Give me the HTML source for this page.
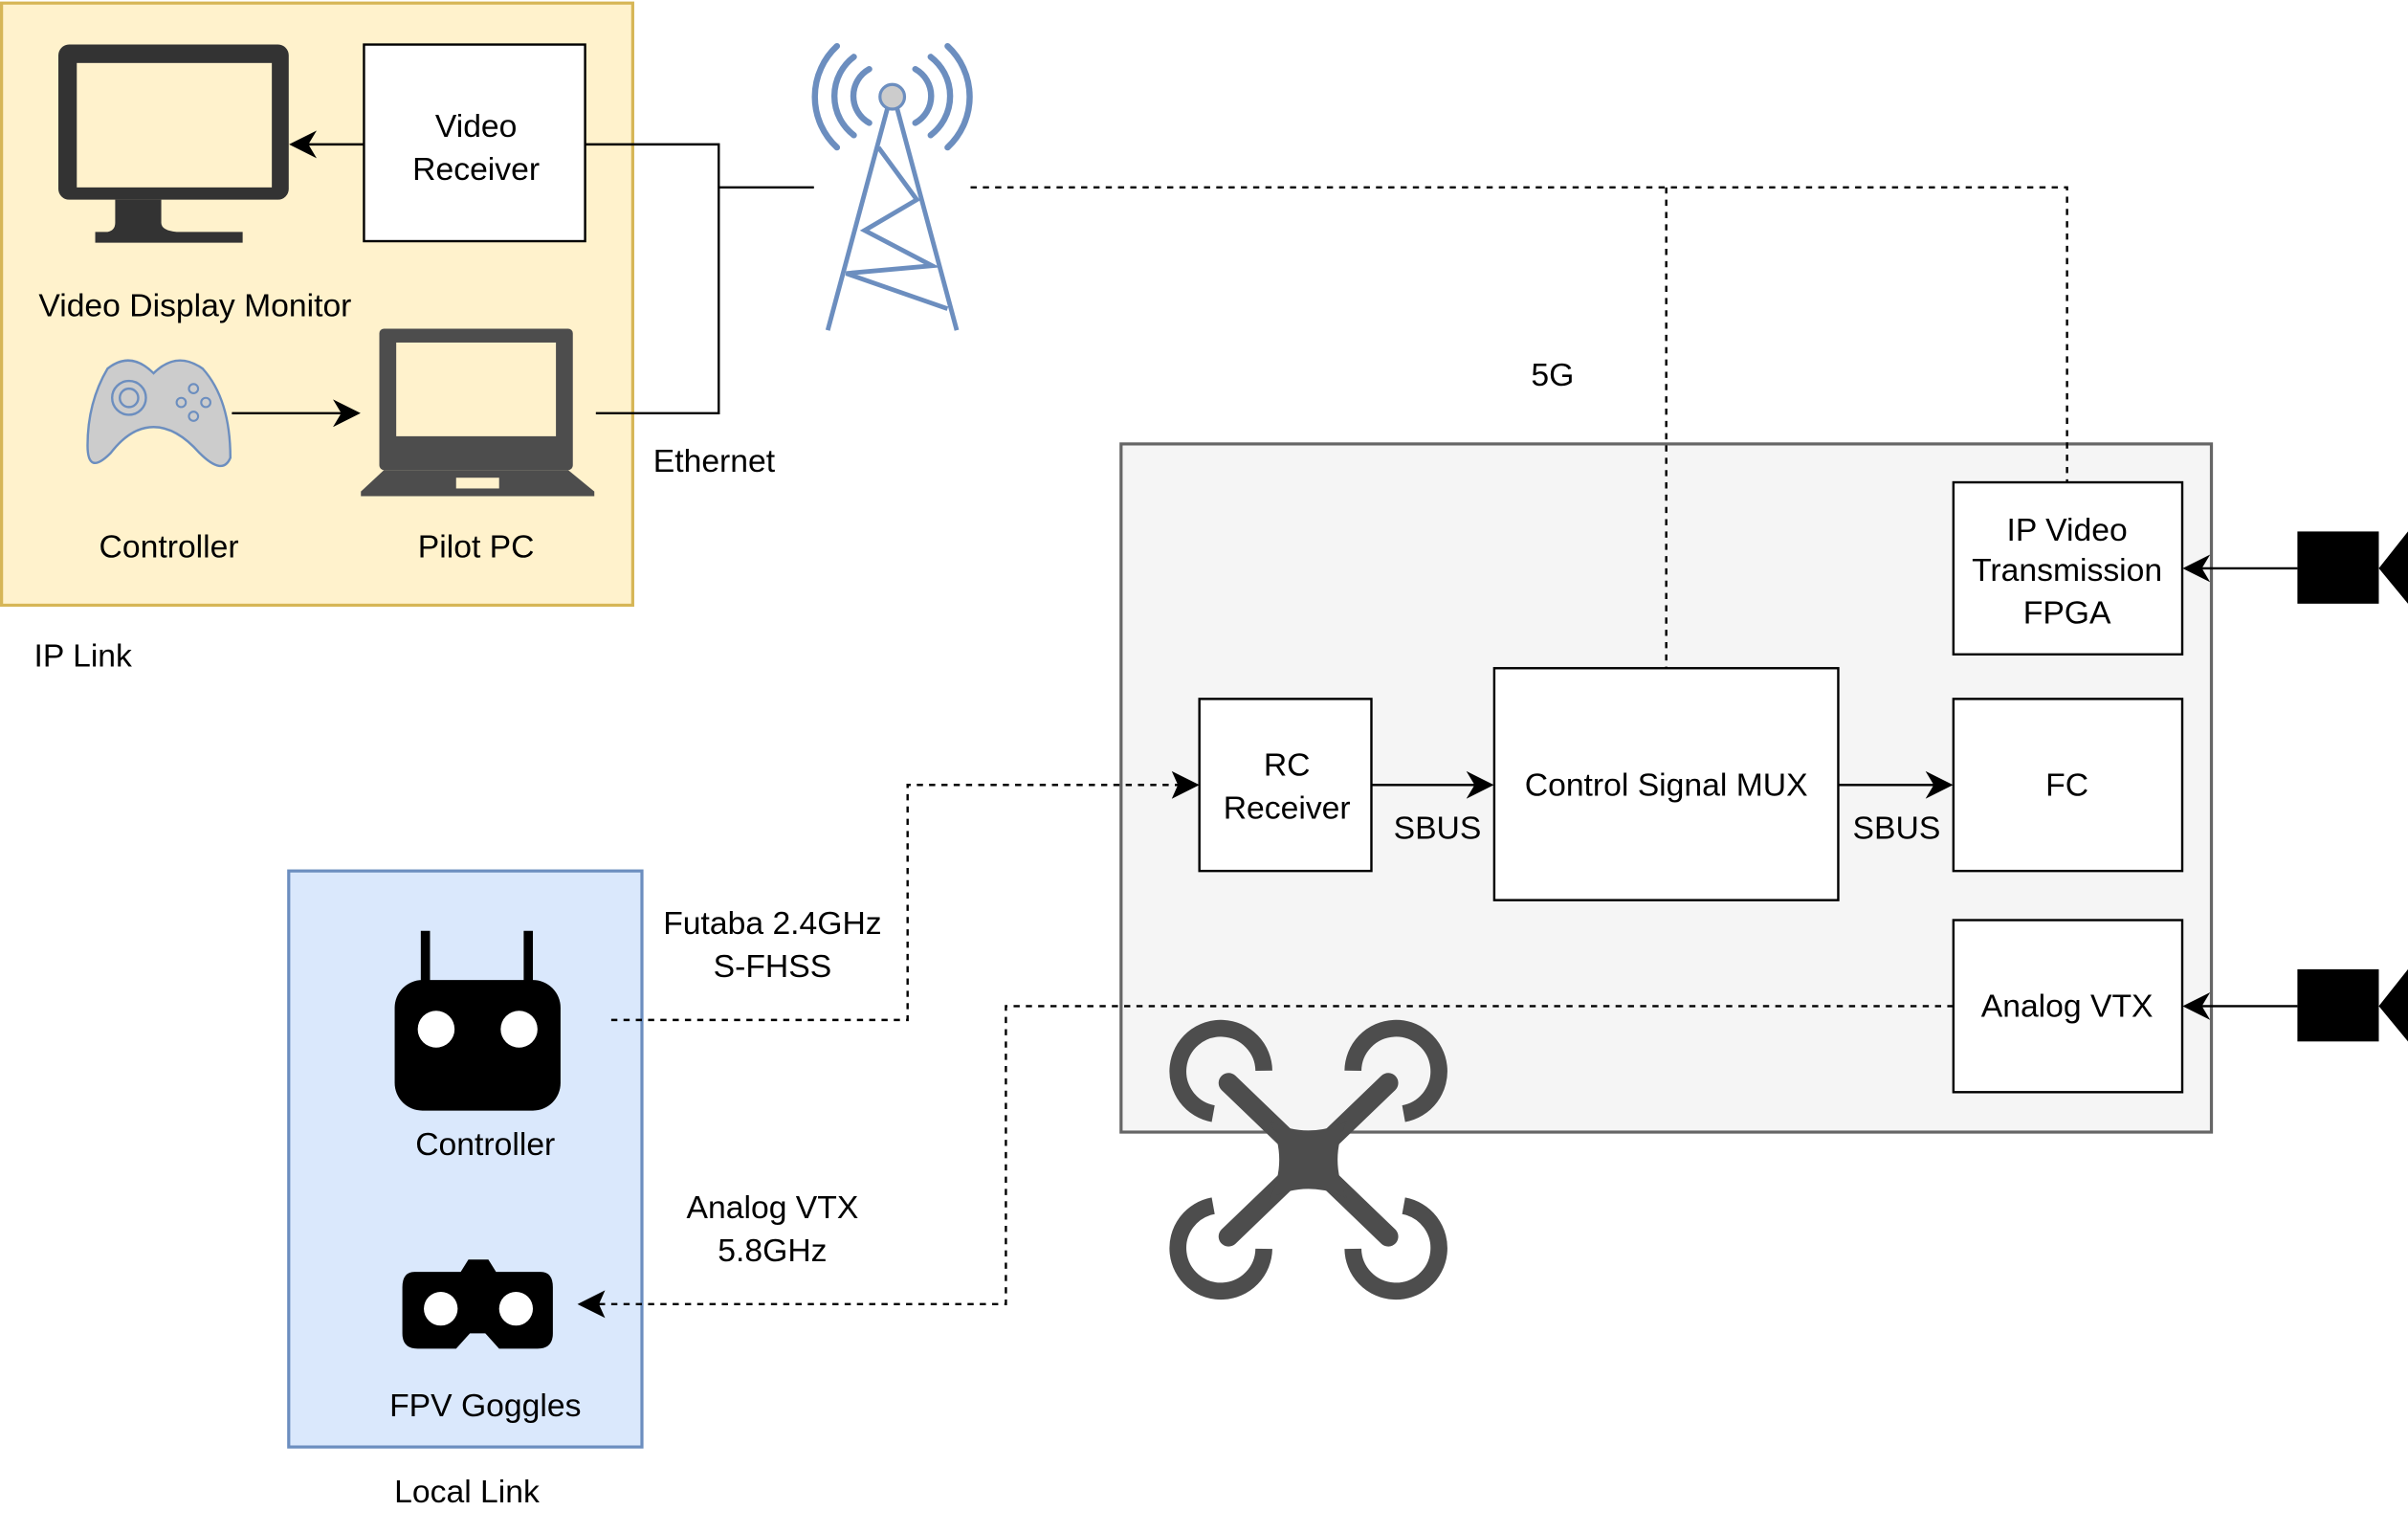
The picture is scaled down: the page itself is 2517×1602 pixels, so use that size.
<!DOCTYPE html>
<html><head><meta charset="utf-8"><style>html,body{margin:0;padding:0;background:#fff}svg{display:block}text{font-family:"Liberation Sans",sans-serif;font-size:21px;fill:#000;text-anchor:middle}</style></head>
<body>
<svg width="2517" height="1602" viewBox="0 0 1568 998" xmlns="http://www.w3.org/2000/svg">
<defs>
<marker id="b" viewBox="0 0 10 10" refX="9" refY="5" markerWidth="18" markerHeight="18" orient="auto" markerUnits="userSpaceOnUse"><path d="M0,0 L10,5 L0,10 L3,5 Z" fill="#000"/></marker>
</defs>
<!-- IP Link -->
<rect x="1" y="2" width="411" height="392" fill="#fff2cc" stroke="#d6b656" stroke-width="2"/>
<rect x="38" y="29" width="150" height="101" rx="7" fill="#333"/>
<rect x="50" y="41" width="127" height="81" fill="#fff2cc"/>
<path d="M75,130 H105 V145 Q105,150 115,151 H158 V158 H62 V151 H70 Q75,150 75,145 Z" fill="#333"/>
<rect x="237" y="29" width="144" height="128" fill="#fff" stroke="#000" stroke-width="1.5"/>
<text x="310" y="89">Video</text><text x="310" y="117">Receiver</text>
<line x1="237" y1="94" x2="190" y2="94" stroke="#000" stroke-width="1.5" marker-end="url(#b)"/>
<polyline points="381,94 468,94 468,269 388,269" fill="none" stroke="#000" stroke-width="1.5"/>
<line x1="468" y1="122" x2="530" y2="122" stroke="#000" stroke-width="1.5"/>
<text x="127" y="206">Video Display Monitor</text>
<path d="M70,240 Q85,228 100,243 Q115,228 132,240 Q150,260 150,298 Q145,310 130,295 Q115,278 100,278 Q85,278 72,295 Q57,310 57,290 Q57,262 70,240 Z" fill="#ccc" stroke="#6c8ebf" stroke-width="1.5"/>
<circle cx="84" cy="259" r="11" fill="none" stroke="#6c8ebf" stroke-width="1.5"/><circle cx="84" cy="259" r="6" fill="none" stroke="#6c8ebf" stroke-width="1.5"/>
<g fill="none" stroke="#6c8ebf" stroke-width="1.3"><circle cx="126" cy="253" r="3"/><circle cx="126" cy="271" r="3"/><circle cx="118" cy="262" r="3"/><circle cx="134" cy="262" r="3"/></g>
<line x1="151" y1="269" x2="233" y2="269" stroke="#000" stroke-width="1.5" marker-end="url(#b)"/>
<rect x="247" y="214" width="126" height="92" rx="3" fill="#4d4d4d"/>
<rect x="258" y="223" width="104" height="61" fill="#fff2cc"/>
<path d="M250,306 H370 L387,320 V323 H235 V320 Z" fill="#4d4d4d"/>
<rect x="297" y="311" width="28" height="7" fill="#fff2cc"/>
<text x="110" y="363">Controller</text><text x="310" y="363">Pilot PC</text>
<text x="465" y="307">Ethernet</text><text x="54" y="434">IP Link</text>
<!-- tower -->
<g fill="none" stroke="#6c8ebf" stroke-width="4" stroke-linecap="round">
<path d="M566,45 A20,20 0 0 0 566,80"/><path d="M596,45 A20,20 0 0 1 596,80"/>
<path d="M556,37 A32,32 0 0 0 556,88"/><path d="M606,37 A32,32 0 0 1 606,88"/>
<path d="M545,30 A45,45 0 0 0 545,96"/><path d="M617,30 A45,45 0 0 1 617,96"/>
</g>
<g stroke="#6c8ebf" stroke-width="3" fill="none">
<line x1="578" y1="70" x2="539" y2="215"/><line x1="584" y1="70" x2="623" y2="215"/>
<polyline points="572,96 597,130 563,150 607,173 551,178 617,201"/>
</g>
<circle cx="581" cy="63" r="8" fill="#ccc" stroke="#6c8ebf" stroke-width="2"/>
<text x="1011" y="251">5G</text>
<!-- drone box -->
<rect x="730" y="289" width="710" height="448" fill="#f5f5f5" stroke="#666" stroke-width="2"/>
<g stroke="#000" stroke-width="1.5" stroke-dasharray="4,4" fill="none">
<polyline points="632,122 1346,122 1346,314"/><line x1="1085" y1="122" x2="1085" y2="435"/>
</g>
<g fill="#fff" stroke="#000" stroke-width="1.5">
<rect x="1272" y="314" width="149" height="112"/><rect x="781" y="455" width="112" height="112"/>
<rect x="973" y="435" width="224" height="151"/><rect x="1272" y="455" width="149" height="112"/>
<rect x="1272" y="599" width="149" height="112"/></g>
<text x="1346" y="352">IP Video</text><text x="1346" y="378">Transmission</text><text x="1346" y="406">FPGA</text>
<text x="838" y="505">RC</text><text x="838" y="533">Receiver</text>
<text x="1085" y="518">Control Signal MUX</text><text x="1346" y="518">FC</text><text x="1346" y="662">Analog VTX</text>
<text x="936" y="546">SBUS</text><text x="1235" y="546">SBUS</text>
<g stroke="#000" stroke-width="1.5">
<line x1="893" y1="511" x2="971" y2="511" marker-end="url(#b)"/><line x1="1197" y1="511" x2="1270" y2="511" marker-end="url(#b)"/>
<line x1="1496" y1="370" x2="1423" y2="370" marker-end="url(#b)"/><line x1="1496" y1="655" x2="1423" y2="655" marker-end="url(#b)"/>
</g>
<rect x="1496" y="346" width="53" height="47"/><path d="M1549,370 L1568,346 V393 Z"/>
<rect x="1496" y="631" width="53" height="47"/><path d="M1549,655 L1568,631 V678 Z"/>
<!-- Local link -->
<rect x="188" y="567" width="230" height="375" fill="#dae8fc" stroke="#6c8ebf" stroke-width="2"/>
<rect x="274" y="606" width="6" height="40" fill="#000"/><rect x="341" y="606" width="6" height="40" fill="#000"/>
<rect x="257" y="638" width="108" height="85" rx="18" fill="#000"/>
<circle cx="284" cy="670" r="12" fill="#fff"/><circle cx="338" cy="670" r="12" fill="#fff"/>
<path d="M270,828 H300 L305,820 H318 L323,828 H352 Q360,828 360,838 V868 Q360,878 350,878 H325 L316,868 H306 L297,878 H272 Q262,878 262,868 V838 Q262,828 270,828 Z" fill="#000"/>
<circle cx="287" cy="852" r="11" fill="#fff"/><circle cx="336" cy="852" r="11" fill="#fff"/>
<text x="316" y="752">Controller</text><text x="316" y="922">FPV Goggles</text><text x="304" y="978">Local Link</text>
<text x="503" y="608">Futaba 2.4GHz</text><text x="503" y="636">S-FHSS</text>
<text x="503" y="793">Analog VTX</text><text x="503" y="821">5.8GHz</text>
<!-- dashed links -->
<g stroke="#000" stroke-width="1.5" stroke-dasharray="4,4" fill="none">
<polyline points="398,664 591,664 591,511 772,511"/>
<polyline points="1272,655 655,655 655,849 388,849"/>
</g>
<path d="M781,511 L763,502 L767,511 L763,520 Z"/>
<path d="M376,849 L394,840 L390,849 L394,858 Z"/>
<!-- drone icon -->
<g fill="none" stroke="#4d4d4d" stroke-width="11">
<path d="M790,725 A28,28 1 1 1 823,697"/><path d="M881,697 A28,28 1 1 1 914,725"/>
<path d="M790,785 A28,28 1 1 0 823,813"/><path d="M881,813 A28,28 1 1 0 914,785"/>
</g>
<g stroke="#4d4d4d" stroke-width="13" stroke-linecap="round"><line x1="800" y1="705" x2="904" y2="805"/><line x1="904" y1="705" x2="800" y2="805"/></g>
<path d="M827,730 Q852,742 877,730 Q865,755 877,780 Q852,768 827,780 Q839,755 827,730 Z" fill="#4d4d4d"/>
</svg>
</body></html>
